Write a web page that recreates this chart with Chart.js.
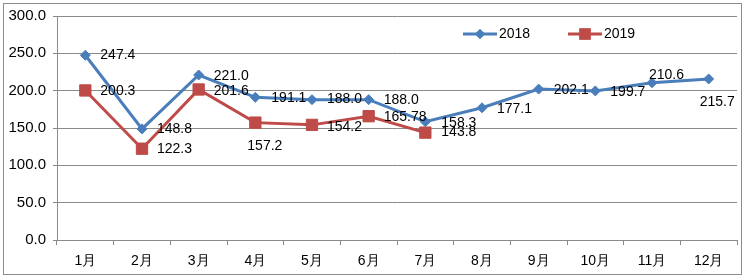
<!DOCTYPE html>
<html>
<head>
<meta charset="utf-8">
<script src="https://cdn.jsdelivr.net/npm/chart.js@4/dist/chart.umd.min.js"></script>
<style>
html,body{margin:0;padding:0;background:#fff;}
#wrap{width:746px;height:278px;position:relative;}
</style>
</head>
<body>
<div id="wrap"><canvas id="c" width="746" height="278"></canvas></div>
<script>
const categories = ['1月','2月','3月','4月','5月','6月','7月','8月','9月','10月','11月','12月'];
const series2018 = [247.4, 148.8, 221.0, 191.1, 188.0, 188.0, 158.3, 177.1, 202.1, 199.7, 210.6, 215.7];
const series2019 = [200.3, 122.3, 201.6, 157.2, 154.2, 165.78, 143.8, null, null, null, null, null];
const labels2018 = ['247.4','148.8','221.0','191.1','188.0','188.0','158.3','177.1','202.1','199.7','210.6','215.7'];
const labels2019 = ['200.3','122.3','201.6','157.2','154.2','165.78','143.8'];
const yTicks = [0, 50, 100, 150, 200, 250, 300];

// label placement (style, not data)
const off2018 = [[15,0],[15,0],[15,1],[16,1],[15,0],[15,1],[16,1],[15,1],[15,1],[15,1],[-3,-8],[-9,23]];
const off2019 = [[15,1],[15,0],[15,2],[-8,24],[15,2],[15,1],[16,0]];

const BLUE = '#4A7EBB';
const RED = '#BE4B48';
const GRID = '#8a8a8a';
const FONT = "'Liberation Sans', Arial, sans-serif";

const bgPlugin = {
  id: 'bg',
  beforeDraw(chart) {
    const ctx = chart.ctx;
    ctx.save();
    ctx.fillStyle = '#fff';
    ctx.fillRect(0, 0, chart.width, chart.height);
    ctx.restore();
  },
  afterDraw(chart) {
    const ctx = chart.ctx;
    ctx.save();
    ctx.strokeStyle = '#8c8c8c';
    ctx.lineWidth = 1;
    ctx.strokeRect(3.5, 3.5, 738, 271);
    ctx.restore();
  }
};

const labelPlugin = {
  id: 'vlabels',
  afterDatasetsDraw(chart) {
    const ctx = chart.ctx;
    ctx.save();
    ctx.font = '14px ' + FONT;
    ctx.fillStyle = '#000';
    ctx.textAlign = 'left';
    ctx.textBaseline = 'middle';
    const sets = [[labels2018, off2018], [labels2019, off2019]];
    sets.forEach(([labs, offs], di) => {
      const meta = chart.getDatasetMeta(di);
      labs.forEach((t, i) => {
        const p = meta.data[i];
        if (!p) return;
        ctx.fillText(t, p.x + offs[i][0], p.y + offs[i][1]);
      });
    });
    ctx.restore();
  }
};

const legendPlugin = {
  id: 'mylegend',
  afterDraw(chart) {
    const ctx = chart.ctx;
    const items = [
      {x: 463, text: '2018', color: BLUE, style: 'rectRot', r: 5},
      {x: 568, text: '2019', color: RED, style: 'rect', r: 8}
    ];
    const y = 34;
    ctx.save();
    items.forEach(it => {
      ctx.strokeStyle = it.color;
      ctx.lineWidth = 3;
      ctx.beginPath();
      ctx.moveTo(it.x, y);
      ctx.lineTo(it.x + 34, y);
      ctx.stroke();
      ctx.fillStyle = it.color;
      Chart.helpers.drawPoint(ctx, {pointStyle: it.style, radius: it.r, rotation: 0, borderWidth: 0}, it.x + 17, y);
      ctx.fill();
      ctx.fillStyle = '#000';
      ctx.font = '14px ' + FONT;
      ctx.textAlign = 'left';
      ctx.textBaseline = 'middle';
      ctx.fillText(it.text, it.x + 36, y);
    });
    ctx.restore();
  }
};

new Chart(document.getElementById('c'), {
  type: 'line',
  data: {
    labels: categories,
    datasets: [
      {
        label: '2018', data: series2018,
        borderColor: BLUE, backgroundColor: BLUE, borderWidth: 3,
        pointStyle: 'rectRot', pointRadius: 5, pointBorderWidth: 1,
        pointBackgroundColor: BLUE, pointBorderColor: BLUE, tension: 0
      },
      {
        label: '2019', data: series2019,
        borderColor: RED, backgroundColor: RED, borderWidth: 3,
        pointStyle: 'rect', pointRadius: 8, pointBorderWidth: 1,
        pointBackgroundColor: RED, pointBorderColor: RED, tension: 0, spanGaps: false
      }
    ]
  },
  options: {
    responsive: false,
    animation: false,
    events: [],
    layout: {padding: {left: 0, right: 8, top: 16, bottom: 0}},
    plugins: {legend: {display: false}, tooltip: {enabled: false}, title: {display: false}},
    scales: {
      x: {
        offset: true,
        grid: {display: true, offset: true, drawOnChartArea: false, drawTicks: true, tickLength: 5, color: GRID, lineWidth: 1},
        border: {display: true, color: GRID, width: 1},
        ticks: {color: '#000', font: {family: FONT, size: 14}, padding: 8, maxRotation: 0, autoSkip: false},
        afterFit(s) { s.height = 38; }
      },
      y: {
        min: 0, max: 300,
        afterBuildTicks(s) { s.ticks = yTicks.map(v => ({value: v})); },
        grid: {display: true, drawOnChartArea: true, drawTicks: true, tickLength: 4, color: GRID, lineWidth: 1},
        border: {display: true, color: GRID, width: 1},
        ticks: {color: '#000', font: {family: FONT, size: 15}, padding: 7, callback: v => Number(v).toFixed(1)},
        afterFit(s) { s.width = 57; }
      }
    }
  },
  plugins: [bgPlugin, labelPlugin, legendPlugin]
});
</script>
</body>
</html>
